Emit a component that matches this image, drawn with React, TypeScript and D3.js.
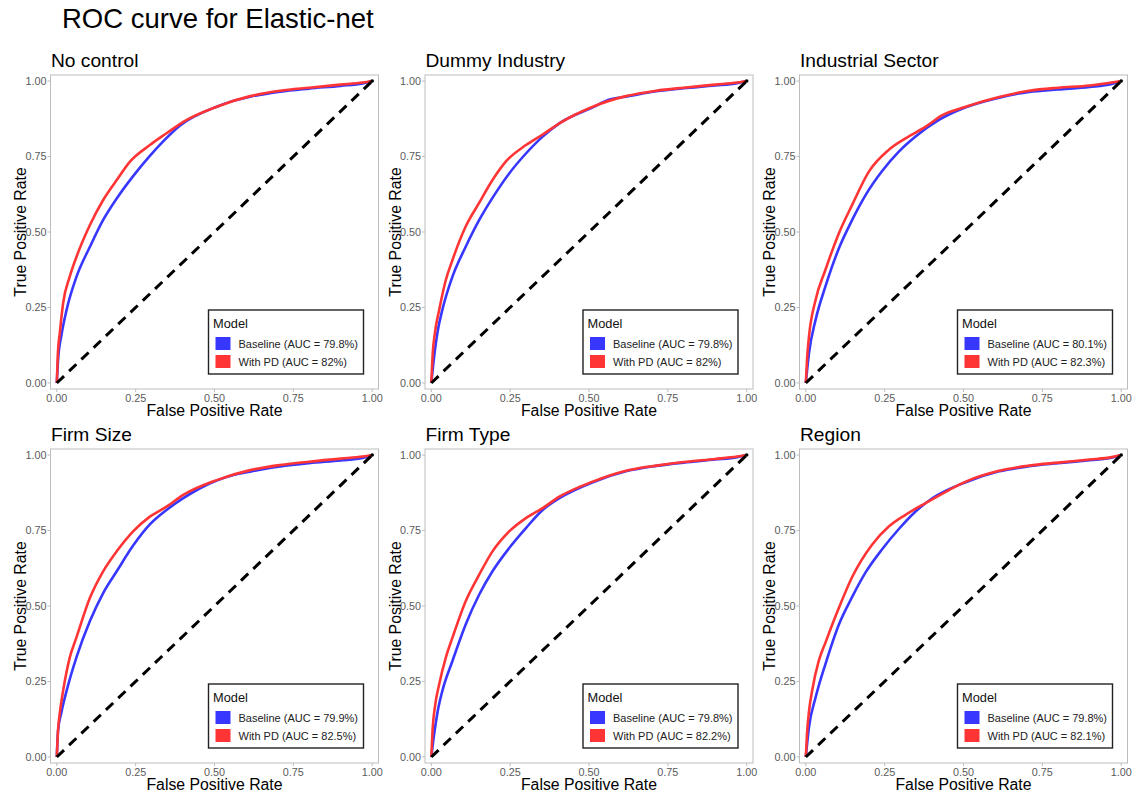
import React from "react";
import * as d3 from "d3";

// ROC points as [false positive rate, true positive rate]
const noControlBaseline: [number, number][] = [[0,0],[0.004,0.076],[0.015,0.16],[0.031,0.242],[0.0625,0.352],[0.105,0.451],[0.147,0.54],[0.19,0.611],[0.242,0.685],[0.295,0.752],[0.338,0.801],[0.39,0.852],[0.507,0.915],[0.549,0.931],[0.613,0.948],[0.708,0.965],[0.8,0.975],[0.9,0.984],[0.97,0.992],[1,1]];
const noControlWithPD: [number, number][] = [[0,0],[0.003,0.09],[0.01,0.17],[0.02,0.264],[0.041,0.352],[0.0625,0.418],[0.105,0.523],[0.147,0.606],[0.19,0.672],[0.232,0.733],[0.295,0.788],[0.348,0.827],[0.401,0.865],[0.507,0.915],[0.613,0.95],[0.708,0.968],[0.8,0.978],[0.9,0.988],[0.97,0.995],[1,1]];

const dummyIndustryBaseline: [number, number][] = [[0,0],[0.009,0.087],[0.02,0.17],[0.035,0.242],[0.067,0.352],[0.109,0.451],[0.152,0.54],[0.194,0.613],[0.247,0.694],[0.3,0.76],[0.353,0.816],[0.406,0.86],[0.512,0.913],[0.565,0.939],[0.617,0.948],[0.713,0.966],[0.8,0.976],[0.9,0.985],[0.97,0.993],[1,1]];
const dummyIndustryWithPD: [number, number][] = [[0,0],[0.004,0.09],[0.012,0.17],[0.025,0.242],[0.046,0.341],[0.067,0.407],[0.109,0.518],[0.152,0.597],[0.194,0.672],[0.236,0.733],[0.3,0.788],[0.353,0.823],[0.406,0.86],[0.512,0.915],[0.617,0.95],[0.713,0.968],[0.8,0.978],[0.9,0.988],[0.97,0.995],[1,1]];

const sectorBaseline: [number, number][] = [[0,0],[0.01,0.098],[0.031,0.209],[0.062,0.319],[0.105,0.446],[0.147,0.54],[0.19,0.623],[0.242,0.702],[0.295,0.766],[0.348,0.816],[0.422,0.871],[0.507,0.913],[0.613,0.945],[0.708,0.964],[0.8,0.972],[0.9,0.98],[0.97,0.99],[1,1]];
const sectorWithPD: [number, number][] = [[0,0],[0.004,0.08],[0.01,0.153],[0.031,0.275],[0.062,0.374],[0.105,0.496],[0.147,0.59],[0.2,0.7],[0.263,0.772],[0.316,0.81],[0.38,0.849],[0.433,0.887],[0.507,0.915],[0.613,0.947],[0.708,0.968],[0.8,0.978],[0.9,0.985],[0.97,0.995],[1,1]];

const firmSizeBaseline: [number, number][] = [[0,0],[0.004,0.087],[0.015,0.15],[0.031,0.219],[0.062,0.329],[0.105,0.45],[0.147,0.543],[0.19,0.615],[0.242,0.7],[0.295,0.77],[0.348,0.818],[0.401,0.857],[0.454,0.89],[0.56,0.934],[0.613,0.945],[0.708,0.962],[0.8,0.973],[0.9,0.982],[0.97,0.99],[1,1]];
const firmSizeWithPD: [number, number][] = [[0,0],[0.004,0.09],[0.01,0.15],[0.02,0.219],[0.041,0.329],[0.062,0.395],[0.105,0.527],[0.147,0.615],[0.19,0.681],[0.242,0.747],[0.295,0.796],[0.348,0.829],[0.401,0.868],[0.507,0.917],[0.613,0.95],[0.708,0.967],[0.8,0.978],[0.9,0.988],[0.97,0.995],[1,1]];

const firmTypeBaseline: [number, number][] = [[0,0],[0.009,0.076],[0.02,0.15],[0.035,0.219],[0.067,0.318],[0.109,0.439],[0.152,0.538],[0.194,0.615],[0.247,0.692],[0.3,0.758],[0.353,0.818],[0.406,0.857],[0.512,0.91],[0.617,0.946],[0.713,0.964],[0.8,0.975],[0.9,0.985],[0.97,0.993],[1,1]];
const firmTypeWithPD: [number, number][] = [[0,0],[0.004,0.09],[0.012,0.17],[0.025,0.241],[0.046,0.329],[0.067,0.395],[0.109,0.516],[0.152,0.604],[0.194,0.681],[0.247,0.747],[0.3,0.791],[0.353,0.824],[0.406,0.862],[0.512,0.912],[0.617,0.948],[0.713,0.965],[0.8,0.977],[0.9,0.987],[0.97,0.995],[1,1]];

const regionBaseline: [number, number][] = [[0,0],[0.01,0.098],[0.031,0.197],[0.062,0.307],[0.105,0.439],[0.147,0.53],[0.19,0.612],[0.242,0.688],[0.295,0.755],[0.348,0.813],[0.401,0.857],[0.507,0.91],[0.613,0.946],[0.708,0.963],[0.8,0.973],[0.9,0.983],[0.97,0.991],[1,1]];
const regionWithPD: [number, number][] = [[0,0],[0.004,0.08],[0.01,0.15],[0.02,0.219],[0.041,0.318],[0.062,0.378],[0.105,0.494],[0.147,0.596],[0.21,0.703],[0.263,0.763],[0.316,0.802],[0.38,0.841],[0.454,0.884],[0.507,0.912],[0.613,0.948],[0.708,0.965],[0.8,0.975],[0.9,0.985],[0.97,0.993],[1,1]];

const panelTitles = ["No control", "Dummy Industry", "Industrial Sector", "Firm Size", "Firm Type", "Region"];
const baselineAUC = ["79.8%", "79.8%", "80.1%", "79.9%", "79.8%", "79.8%"];
const withPDAUC = ["82%", "82%", "82.3%", "82.5%", "82.2%", "82.1%"];
const baselineCurves = [noControlBaseline, dummyIndustryBaseline, sectorBaseline, firmSizeBaseline, firmTypeBaseline, regionBaseline];
const withPDCurves = [noControlWithPD, dummyIndustryWithPD, sectorWithPD, firmSizeWithPD, firmTypeWithPD, regionWithPD];
const tickValues = [0, 0.25, 0.5, 0.75, 1];

const FONT = "'Liberation Sans', Arial, Helvetica, sans-serif";
const BLUE = "#3737ff";
const RED = "#ff3535";

const W = 1135;
const H = 801;
const panelW = 328;
const panelH = 314;
const colStep = 374.5;
const rowStep = 374;
const originX = 50.5;
const originY = 75;

function Panel({ idx }: { idx: number }) {
  const col = idx % 3;
  const row = Math.floor(idx / 3);
  const left = originX + col * colStep;
  const top = originY + row * rowStep;
  // 2% expansion on both axes
  const x = d3.scaleLinear().domain([-0.02, 1.02]).range([left, left + panelW]);
  const y = d3.scaleLinear().domain([-0.02, 1.02]).range([top + panelH, top]);
  const line = d3
    .line<[number, number]>()
    .x((d) => x(d[0]))
    .y((d) => y(d[1]))
    .curve(d3.curveMonotoneX);

  const legW = 155;
  const legH = 64;
  const legX = left + panelW - 15 - legW;
  const legY = top + panelH - 15 - legH;

  return (
    <g>
      <text x={left + 0.5} y={top - 8} fontSize={19.2} fill="#000" fontFamily={FONT}>
        {panelTitles[idx]}
      </text>
      <rect x={left} y={top} width={panelW} height={panelH} fill="#fff" stroke="#bdbdbd" strokeWidth={1} />
      {tickValues.map((t) => (
        <g key={"y" + t}>
          <line x1={left - 3} x2={left} y1={y(t)} y2={y(t)} stroke="#bdbdbd" />
          <text x={left - 4} y={y(t) + 3.8} fontSize={10.8} fill="#5a5a5a" textAnchor="end" fontFamily={FONT}>
            {t.toFixed(2)}
          </text>
        </g>
      ))}
      {tickValues.map((t) => (
        <g key={"x" + t}>
          <line x1={x(t)} x2={x(t)} y1={top + panelH} y2={top + panelH + 3} stroke="#bdbdbd" />
          <text x={x(t)} y={top + panelH + 12.5} fontSize={10.8} fill="#5a5a5a" textAnchor="middle" fontFamily={FONT}>
            {t.toFixed(2)}
          </text>
        </g>
      ))}
      <text x={(x(0) + x(1)) / 2} y={top + panelH + 27} fontSize={15.8} textAnchor="middle" fontFamily={FONT}>
        False Positive Rate
      </text>
      <text
        transform={`translate(${left - 24.5},${(y(0) + y(1)) / 2}) rotate(-90)`}
        fontSize={15.8}
        textAnchor="middle"
        fontFamily={FONT}
      >
        True Positive Rate
      </text>
      <path d={line(baselineCurves[idx]) || ""} fill="none" stroke={BLUE} strokeWidth={2.6} strokeLinejoin="round" />
      <path d={line(withPDCurves[idx]) || ""} fill="none" stroke={RED} strokeWidth={2.6} strokeLinejoin="round" />
      <line x1={x(0)} y1={y(0)} x2={x(1)} y2={y(1)} stroke="#000" strokeWidth={3} strokeDasharray="10,7" />
      <circle cx={x(1)} cy={y(1)} r={1.8} fill="#000" />
      <g>
        <rect x={legX} y={legY} width={legW} height={legH} fill="#fff" stroke="#222" strokeWidth={1.4} />
        <text x={legX + 4.5} y={legY + 17.5} fontSize={12.8} fontFamily={FONT} fill="#111">
          Model
        </text>
        <rect x={legX + 7} y={legY + 27} width={15} height={13} fill={BLUE} />
        <rect x={legX + 7} y={legY + 45} width={15} height={13} fill={RED} />
        <text x={legX + 30} y={legY + 37.8} fontSize={11} fontFamily={FONT} fill="#222">
          {`Baseline (AUC = ${baselineAUC[idx]})`}
        </text>
        <text x={legX + 30} y={legY + 55.8} fontSize={11} fontFamily={FONT} fill="#222">
          {`With PD (AUC = ${withPDAUC[idx]})`}
        </text>
      </g>
    </g>
  );
}

export default function App() {
  return (
    <svg
      width={W}
      height={H}
      viewBox={`0 0 ${W} ${H}`}
      style={{ position: "absolute", left: 0, top: 0, background: "#fff" }}
    >
      <rect x={0} y={0} width={W} height={H} fill="#fff" />
      <text x={62} y={27.5} fontSize={27.5} fontFamily={FONT} fill="#000">
        ROC curve for Elastic-net
      </text>
      {panelTitles.map((_, i) => (
        <Panel key={i} idx={i} />
      ))}
    </svg>
  );
}
